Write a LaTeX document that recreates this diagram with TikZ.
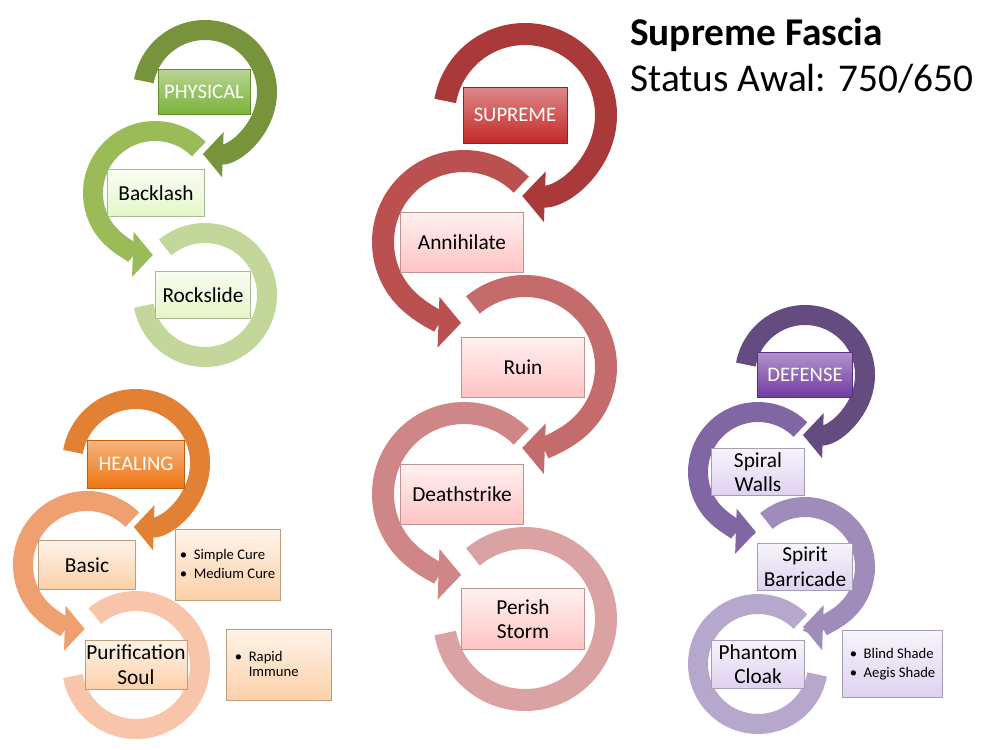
\documentclass[tikz,border=0pt]{standalone}
\usepackage{fontspec}
\setmainfont{Carlito}
\usepackage{tikz}
\usetikzlibrary{arrows.meta,positioning}
\definecolor{physA}{RGB}{119,147,60}
\definecolor{physB}{RGB}{155,187,89}
\definecolor{physC}{RGB}{196,215,155}
\definecolor{physHead}{RGB}{122,178,58}
\definecolor{physItem}{RGB}{228,247,200}
\definecolor{supA}{RGB}{170,58,58}
\definecolor{supB}{RGB}{186,80,80}
\definecolor{supC}{RGB}{196,108,108}
\definecolor{supD}{RGB}{206,134,134}
\definecolor{supE}{RGB}{218,162,162}
\definecolor{supHead}{RGB}{196,40,40}
\definecolor{supItem}{RGB}{255,196,196}
\definecolor{healA}{RGB}{226,128,52}
\definecolor{healB}{RGB}{238,160,112}
\definecolor{healC}{RGB}{248,196,170}
\definecolor{healHead}{RGB}{238,118,20}
\definecolor{healItem}{RGB}{252,208,168}
\definecolor{defA}{RGB}{100,76,128}
\definecolor{defB}{RGB}{128,102,162}
\definecolor{defC}{RGB}{160,140,186}
\definecolor{defD}{RGB}{182,168,204}
\definecolor{defHead}{RGB}{112,58,160}
\definecolor{defItem}{RGB}{222,210,240}

\tikzset{
  ring/.style={line width=15pt, draw=#1},
  bigring/.style={line width=16.5pt, draw=#1},
  tip/.style={-{Triangle[length=15pt,width=33pt]}},
  bigtip/.style={-{Triangle[length=17pt,width=37pt]}},
  head/.style={draw=#1!80!black, top color=#1!55!white, bottom color=#1,
    text=white, font=\fontsize{15.5}{18}\selectfont, inner sep=1pt},
  item/.style={draw=#1!75!black, top color=#1!25!white, bottom color=#1,
    text=black, font=\fontsize{16}{18.5}\selectfont, align=center, inner sep=1pt},
  side/.style={item=#1, font=\fontsize{11}{14.5}\selectfont}
}

\begin{document}
\begin{tikzpicture}[x=0.75pt,y=-0.75pt]
  \useasboundingbox (0,0) rectangle (1000,750);
  % Physical rings
  \draw[ring=physC] (205,295) ++(-130:62) arc[start angle=-130,end angle=170,radius=62];
  \draw[ring=physB,tip] (155,193) ++(-45:62) arc[start angle=-45,end angle=-268,radius=62];
  \draw[ring=physA,tip] (205,92) ++(-170:62) arc[start angle=-170,end angle=92,radius=62];
  % Healing rings
  \draw[ring=healC] (136,665) ++(-130:64) arc[start angle=-130,end angle=170,radius=64];
  \draw[ring=healB,tip] (87,565) ++(-45:64) arc[start angle=-45,end angle=-268,radius=64];
  \draw[ring=healA,tip] (136,463) ++(-170:64) arc[start angle=-170,end angle=92,radius=64];
  % Supreme rings
  \draw[bigring=supE] (525,619) ++(-130:81) arc[start angle=-130,end angle=170,radius=81];
  \draw[bigring=supD,bigtip] (464,494) ++(-45:81) arc[start angle=-45,end angle=-268,radius=81];
  \draw[bigring=supC,bigtip] (525,367) ++(-130:81) arc[start angle=-130,end angle=92,radius=81];
  \draw[bigring=supB,bigtip] (464,242) ++(-45:81) arc[start angle=-45,end angle=-268,radius=81];
  \draw[bigring=supA,bigtip] (525,115) ++(-170:81) arc[start angle=-170,end angle=92,radius=81];
  % Defense rings
  \draw[ring=defD] (758,664) ++(-45:60) arc[start angle=-45,end angle=-350,radius=60];
  \draw[ring=defC,tip] (805,567) ++(-130:60) arc[start angle=-130,end angle=92,radius=60];
  \draw[ring=defB,tip] (758,472) ++(-45:60) arc[start angle=-45,end angle=-268,radius=60];
  \draw[ring=defA,tip] (805,375) ++(-170:60) arc[start angle=-170,end angle=92,radius=60];

  % Physical boxes
  \node[head=physHead, minimum width=69pt, minimum height=34pt] (physical) at (204,92) {PHYSICAL};
  \node[item=physItem, minimum width=73pt, minimum height=35pt] (backlash) at (156,193) {Backlash};
  \node[item=physItem, minimum width=71pt, minimum height=35pt] (rockslide) at (203,295) {Rockslide};
  % Healing boxes
  \node[head=healHead, minimum width=73pt, minimum height=36pt] (healing) at (136,464) {HEALING};
  \node[item=healItem, minimum width=73pt, minimum height=37pt] (basic) at (87,565) {Basic};
  \node[item=healItem, minimum width=73pt, minimum height=37pt] (purification) at (136,665) {Purification\\Soul};
  \node[side=healItem, minimum width=79pt, minimum height=53pt, right=29pt of basic] (cures)
    {\begin{tabular}{@{}l@{\ \ }l@{}}\textbullet & Simple Cure\\ \textbullet & Medium Cure\end{tabular}};
  \node[side=healItem, minimum width=79pt, minimum height=53pt, right=29pt of purification] (immune)
    {\begin{tabular}{@{}l@{\ \ }l@{}}\textbullet & Rapid\\[-3pt] & Immune\end{tabular}\hspace*{18pt}};
  % Supreme boxes
  \node[head=supHead, minimum width=78pt, minimum height=42pt] (supreme) at (515,115) {SUPREME};
  \node[item=supItem, minimum width=92pt, minimum height=45pt] (annihilate) at (462,242) {Annihilate};
  \node[item=supItem, minimum width=92pt, minimum height=45pt] (ruin) at (523,367) {Ruin};
  \node[item=supItem, minimum width=92pt, minimum height=45pt] (deathstrike) at (462,494) {Deathstrike};
  \node[item=supItem, minimum width=92pt, minimum height=46pt] (perish) at (523,619) {Perish\\Storm};
  % Defense boxes
  \node[head=defHead, minimum width=71pt, minimum height=34pt] (defense) at (805,375) {DEFENSE};
  \node[item=defItem, minimum width=70pt, minimum height=35pt] (spiral) at (758,472) {Spiral\\Walls};
  \node[item=defItem, minimum width=71pt, minimum height=35pt] (spirit) at (805,567) {Spirit\\Barricade};
  \node[item=defItem, minimum width=70pt, minimum height=36pt] (phantom) at (758,664) {Phantom\\Cloak};
  \node[side=defItem, minimum width=75pt, minimum height=50pt, right=28pt of phantom] (shades)
    {\begin{tabular}{@{}l@{\ \ }l@{}}\textbullet & Blind Shade\\ \textbullet & Aegis Shade\end{tabular}};

  % Title
  \node[anchor=north west, font=\bfseries\fontsize{29.5}{32}\selectfont, inner sep=0pt] (title) at (630,18) {Supreme Fascia};
  \node[font=\fontsize{29.5}{32}\selectfont, inner sep=0pt, below=9pt of title.south west, anchor=north west] (status) {Status Awal: 750/650};
\end{tikzpicture}
\end{document}
